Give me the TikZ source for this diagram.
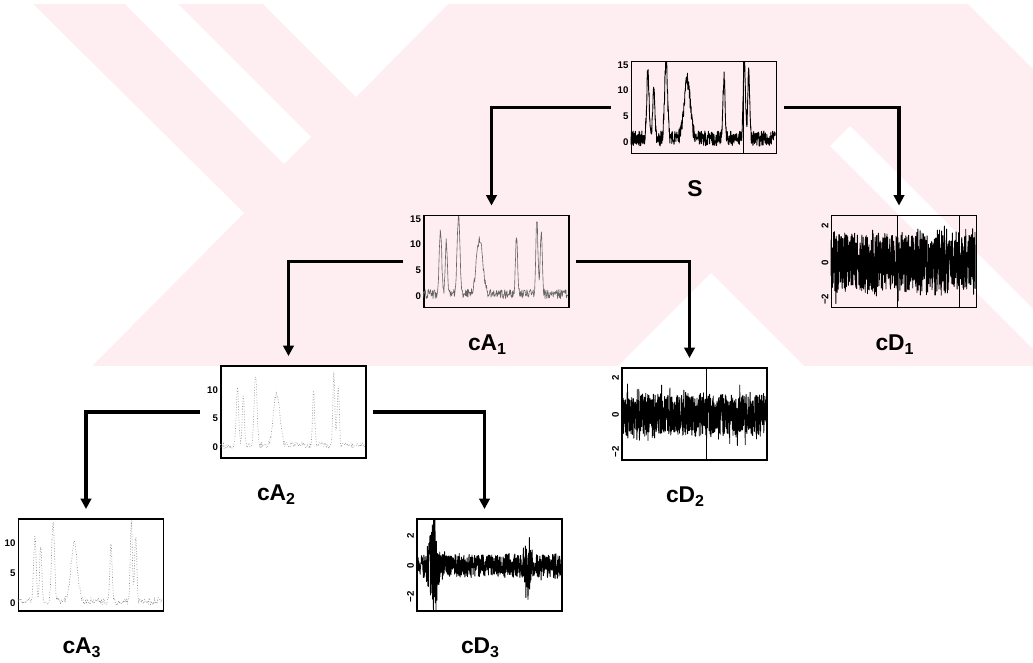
\documentclass[tikz,border=0pt]{standalone}
\usepackage{fontspec}
\setmainfont{Liberation Sans}
\usetikzlibrary{positioning, arrows.meta}
\definecolor{wmpink}{RGB}{254,238,241}

\tikzset{
    panel/.style={draw, line width=1.1pt, minimum width=2.9cm, minimum height=1.84cm, inner sep=0pt},
    caption/.style={font=\fontsize{13}{15}\selectfont\bfseries, xshift=-1.8mm},
    link/.style={line width=2pt, -{Triangle[width=6pt,length=6pt]}, shorten >=1.8mm},
    ticklab/.style={font=\fontsize{5.5}{6}\selectfont\bfseries, inner sep=1pt},
    sigline/.style={line width=.5pt, line join=round},
    declare function={
        pk(\x,\c,\w)=exp(-min(((\x-\c)/\w)^2,9));
        sig(\x)=13*pk(\x,0.12,0.012)+11*pk(\x,0.16,0.01)+15.5*pk(\x,0.245,0.014)
               +11.5*pk(\x,0.39,0.03)+12*pk(\x,0.645,0.01)+15.5*pk(\x,0.785,0.01)
               +13*pk(\x,0.815,0.01);
    }
}

\begin{document}
\begin{tikzpicture}[x=0.02cm, y=-0.02cm]
    \useasboundingbox (0,0) rectangle (1033,662);
    \pgfmathsetseed{42}

    % watermark
    \fill[wmpink] (0,4) rectangle (1033,366);
    \fill[white] (0,4) -- (33,4) -- (244,213) -- (92,366) -- (0,366) -- cycle;
    \fill[white] (125,4) -- (178,4) -- (311,137) -- (284,164) -- cycle;
    \fill[white] (263,4) -- (448,4) -- (356,97) -- cycle;
    \fill[white] (711,273) -- (804,366) -- (618,366) -- cycle;
    \fill[white] (968,4) -- (1033,4) -- (1033,69) -- cycle;
    \fill[white] (830,146) -- (850,126) -- (1033,309) -- (1033,349) -- cycle;

    % panels
    \node[panel] (S)   at (704,107.5) {};
    \node[panel] (cA1) at (496.5,261.5) {};
    \node[panel] (cD1) at (904,261.5) {};
    \node[panel] (cA2) at (293.5,412) {};
    \node[panel] (cD2) at (694.5,414) {};
    \node[panel] (cA3) at (91,565) {};
    \node[panel] (cD3) at (489.5,565) {};

    % signal S
    \begin{scope}[shift={(S.south west)}, x=2.9cm, y=1.84cm]
        \foreach \v in {0,5,10,15}
            \node[ticklab, left] (S-t\v) at (0,{(\v+2.5)/18}) {\v};
        \begin{scope}
            \clip (0,0) rectangle (1,1);
            \draw[sigline] plot[domain=0:1, samples=600] (\x,{(sig(\x)+0.6+1.5*rand+2.5)/18});
            \draw[thin] (0.78,0) -- (0.78,1);
        \end{scope}
    \end{scope}

    % approximations
    \begin{scope}[shift={(cA1.south west)}, x=2.9cm, y=1.84cm]
        \foreach \v in {0,5,10,15}
            \node[ticklab, left] (cA1-t\v) at (0,{(\v+2.5)/18}) {\v};
        \begin{scope}
            \clip (0,0) rectangle (1,1);
            \draw[sigline, black!60, line width=.35pt] plot[domain=0:1, samples=320] (\x,{(0.95*sig(\x)+0.3+0.9*rand+2.5)/18});
        \end{scope}
    \end{scope}
    \begin{scope}[shift={(cA2.south west)}, x=2.9cm, y=1.84cm]
        \foreach \v in {0,5,10}
            \node[ticklab, left] (cA2-t\v) at (0,{(\v+2.1)/16.2}) {\v};
        \begin{scope}
            \clip (0,0) rectangle (1,1);
            \draw[sigline, black!40, densely dotted, line width=.35pt] plot[domain=0:1, samples=220] (\x,{(0.8*sig(\x)+0.3+0.6*rand+2.1)/16.2});
        \end{scope}
    \end{scope}
    \begin{scope}[shift={(cA3.south west)}, x=2.9cm, y=1.84cm]
        \foreach \v in {0,5,10}
            \node[ticklab, left] (cA3-t\v) at (0,{(\v+1.5)/15.3}) {\v};
        \begin{scope}
            \clip (0,0) rectangle (1,1);
            \draw[sigline, black!45, densely dotted, line width=.35pt] plot[domain=0:1, samples=220] (\x,{(0.85*sig(\x)+0.3+0.6*rand+1.5)/15.3});
        \end{scope}
    \end{scope}

    % details
    \begin{scope}[shift={(cD1.south west)}, x=2.9cm, y=1.84cm]
        \foreach \v/\t in {2/2,0/0,-2/−2}
            \node[ticklab, anchor=south, rotate=90] (cD1-t\v) at (0,{(\v+2.5)/5}) {\t};
        \begin{scope}
            \clip (0,0) rectangle (1,1);
            \draw[sigline] plot[domain=0:1, samples=900] (\x,{(1.6*rand+1.0*rand*rand*rand+2.5)/5});
            \draw[thin] (0.46,0) -- (0.46,1) (0.89,0) -- (0.89,1);
        \end{scope}
    \end{scope}
    \begin{scope}[shift={(cD2.south west)}, x=2.9cm, y=1.84cm]
        \foreach \v/\t in {2/2,0/0,-2/−2}
            \node[ticklab, anchor=south, rotate=90] (cD2-t\v) at (0,{(\v+2.5)/5}) {\t};
        \begin{scope}
            \clip (0,0) rectangle (1,1);
            \draw[sigline] plot[domain=0:1, samples=850] (\x,{(1.15*rand+0.9*rand*rand*rand+2.5)/5});
            \draw[thin] (0.585,0) -- (0.585,1);
        \end{scope}
    \end{scope}
    \begin{scope}[shift={(cD3.south west)}, x=2.9cm, y=1.84cm]
        \foreach \v/\t in {2/2,0/0,-2/−2}
            \node[ticklab, anchor=south, rotate=90] (cD3-t\v) at (0,{(\v+3)/6}) {\t};
        \begin{scope}
            \clip (0,0) rectangle (1,1);
            \draw[sigline] plot[domain=0:1, samples=700]
                (\x,{((0.75+2.8*pk(\x,0.12,0.03)+1.2*pk(\x,0.77,0.025))*(rand+0.5*rand*rand*rand)+3)/6});
            \draw[thin] (0.12,0) -- (0.12,1);
        \end{scope}
    \end{scope}

    % captions
    \node[caption, below=4mm of S] (S-lab) {S};
    \node[caption, below=4mm of cA1] (cA1-lab) {cA\textsubscript{1}};
    \node[caption, below=4mm of cD1] (cD1-lab) {cD\textsubscript{1}};
    \node[caption, below=4mm of cA2, xshift=-1.6mm] (cA2-lab) {cA\textsubscript{2}};
    \node[caption, below=4mm of cD2] (cD2-lab) {cD\textsubscript{2}};
    \node[caption, below=4mm of cA3] (cA3-lab) {cA\textsubscript{3}};
    \node[caption, below=4mm of cD3] (cD3-lab) {cD\textsubscript{3}};

    % decomposition links
    \draw[link] ([xshift=-4mm]S.west) -| ([xshift=-1mm]cA1.north);
    \draw[link] ([xshift=1.4mm]S.east) -| ([xshift=-1mm]cD1.north);
    \draw[link] ([xshift=-4mm]cA1.west) -| ([xshift=-1mm]cA2.north);
    \draw[link] ([xshift=1.2mm]cA1.east) -| ([xshift=-1mm]cD2.north);
    \draw[link] ([xshift=-4mm]cA2.west) -| ([xshift=-1mm]cA3.north);
    \draw[link] ([xshift=1.2mm]cA2.east) -| ([xshift=-1mm]cD3.north);
\end{tikzpicture}
\end{document}
